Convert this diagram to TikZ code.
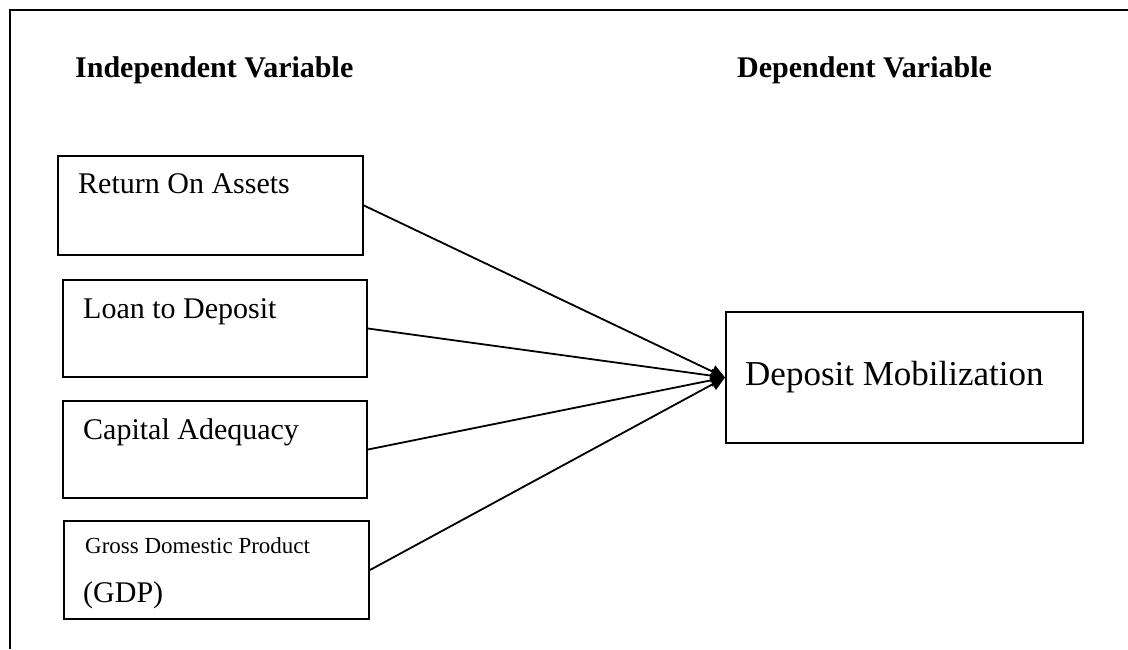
\documentclass[tikz,border=0pt]{standalone}
\usepackage{fontspec}
\setmainfont{Liberation Serif}
\usetikzlibrary{arrows.meta}
\tikzset{
  varbox/.style={draw=black, line width=2pt, inner sep=0pt, rectangle},
  lbl/.style={anchor=base west, inner sep=0pt, font=\fontsize{30}{36}\selectfont},
  head/.style={anchor=base west, inner sep=0pt, font=\fontsize{30}{36}\selectfont\bfseries},
  link/.style={line width=1.8pt, -{Triangle[length=14pt,width=13pt]}}
}
\begin{document}
\begin{tikzpicture}[x=1pt,y=-1pt]
\useasboundingbox (0,0) rectangle (1128,649);
\fill[white] (0,0) rectangle (1128,649);
% outer frame
\coordinate (fbl) at (10,649);
\coordinate (ftl) at (10,10);
\coordinate (ftr) at (1128,10);
\draw[line width=2.4pt] (fbl) -- (ftl) -- (ftr);
% headings
\node[head] (hind) at (75,77) {Independent Variable};
\node[head] (hdep) at (737,77) {Dependent Variable};
% boxes
\node[varbox, minimum width=305pt, minimum height=99pt] (roa) at (210.5,205.5) {};
\node[varbox, minimum width=304pt, minimum height=97pt] (ltd) at (215,328.5) {};
\node[varbox, minimum width=304pt, minimum height=97pt] (car) at (215,449.5) {};
\node[varbox, minimum width=305pt, minimum height=98pt] (gdp) at (216.5,570) {};
\node[varbox, minimum width=357pt, minimum height=131pt] (dep) at (904.5,377.5) {};
% box texts
\node[lbl] (troa) at (78,193) {Return On Assets};
\node[lbl] (tltd) at (83,318) {Loan to Deposit};
\node[lbl] (tcar) at (83,439) {Capital Adequacy};
\node[lbl, font=\fontsize{23}{28}\selectfont] (tgdp1) at (85,553) {Gross Domestic Product};
\node[lbl] (tgdp2) at (83,602) {(GDP)};
\node[lbl, font=\fontsize{35}{42}\selectfont] (tdep) at (745,385) {Deposit Mobilization};
% connectors
\draw[link] (roa.east) -- (dep.west);
\draw[link] (ltd.east) -- (dep.west);
\draw[link] (car.east) -- (dep.west);
\draw[link] (gdp.east) -- (dep.west);
\end{tikzpicture}
\end{document}
